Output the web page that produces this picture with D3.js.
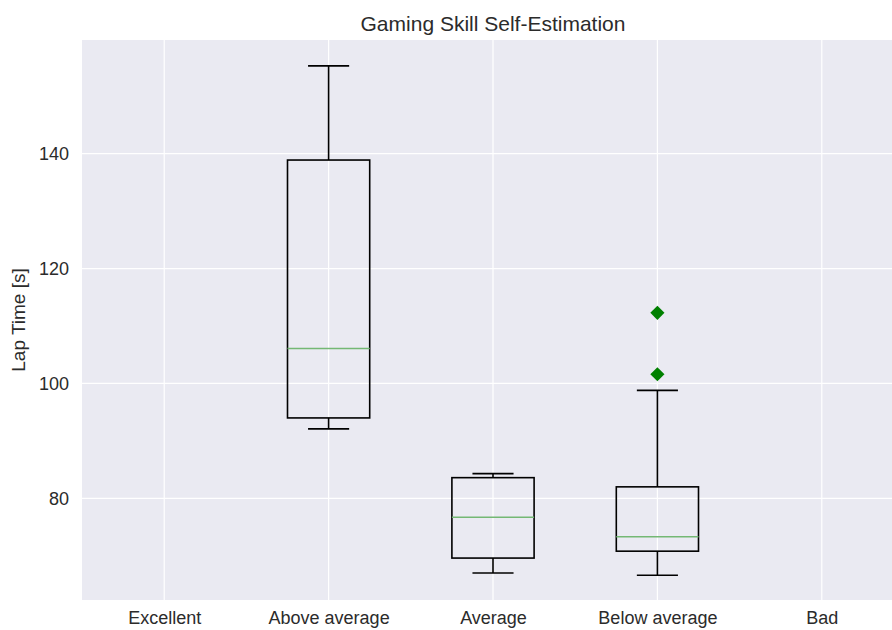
<!DOCTYPE html>
<html>
<head>
<meta charset="utf-8">
<script src="https://cdn.jsdelivr.net/npm/d3@7"></script>
<style>
  html, body { margin: 0; padding: 0; background: #fff; }
  svg { display: block; font-family: "Liberation Sans", Arial, sans-serif; }
</style>
</head>
<body>
<svg id="chart" width="892" height="630"></svg>
<script>
// Skill groups along the x axis
const categories = ["Excellent", "Above average", "Average", "Below average", "Bad"];
// Box statistics per group (null where no laps recorded)
const whiskerLow  = [null, 92.1, 67.0, 66.6, null];
const q1          = [null, 94.0, 69.6, 70.8, null];
const medians     = [null, 106.1, 76.7, 73.3, null];
const q3          = [null, 138.9, 83.6, 82.0, null];
const whiskerHigh = [null, 155.3, 84.3, 98.8, null];
// Outlier laps per group
const outliers    = [[], [], [], [112.3, 101.6], []];
const yTicks = [80, 100, 120, 140];

const svg = d3.select("#chart");
const margin = { left: 82, top: 40, right: -12, bottom: 30 };
const W = 892, H = 630;
const plotRight = W - margin.right;
const plotBottom = H - margin.bottom;

const x = d3.scaleLinear().domain([0.5, 5.5]).range([margin.left, plotRight]);
const y = d3.scaleLinear().domain([62.3, 159.8]).range([plotBottom, margin.top]);

svg.append("rect")
  .attr("x", margin.left).attr("y", margin.top)
  .attr("width", plotRight - margin.left).attr("height", plotBottom - margin.top)
  .attr("fill", "#EAEAF2");

// Grid
const grid = svg.append("g").attr("stroke", "#fff").attr("stroke-width", 1.2);
grid.selectAll(".gx").data(categories).join("line")
  .attr("x1", (d, i) => x(i + 1)).attr("x2", (d, i) => x(i + 1))
  .attr("y1", margin.top).attr("y2", plotBottom);
grid.selectAll(".gy").data(yTicks).join("line")
  .attr("x1", margin.left).attr("x2", plotRight)
  .attr("y1", d => y(d)).attr("y2", d => y(d));

// Axes (labels only, no spines or tick marks)
const xAxis = svg.append("g")
  .attr("transform", `translate(0,${plotBottom})`)
  .call(d3.axisBottom(x).tickValues(categories.map((d, i) => i + 1))
    .tickFormat((d) => categories[d - 1]).tickSize(0).tickPadding(13));
const yAxis = svg.append("g")
  .attr("transform", `translate(${margin.left},0)`)
  .call(d3.axisLeft(y).tickValues(yTicks).tickSize(0).tickPadding(13));
[xAxis, yAxis].forEach(a => {
  a.select(".domain").remove();
  a.selectAll("text").attr("font-size", 18).attr("fill", "#2b2b2b")
    .attr("font-family", "'Liberation Sans', Arial, sans-serif");
});
xAxis.selectAll("text").attr("dy", "0.62em");

// Boxes
const boxW = x(1.25) - x(1);
const capW = x(1.125) - x(1);
const boxes = svg.append("g");
categories.forEach((c, i) => {
  if (medians[i] == null) return;
  const cx = x(i + 1);
  const g = boxes.append("g").attr("stroke", "#000").attr("stroke-width", 1.6).attr("fill", "none");
  g.append("line").attr("x1", cx).attr("x2", cx).attr("y1", y(q3[i])).attr("y2", y(whiskerHigh[i]));
  g.append("line").attr("x1", cx).attr("x2", cx).attr("y1", y(q1[i])).attr("y2", y(whiskerLow[i]));
  g.append("line").attr("x1", cx - capW).attr("x2", cx + capW).attr("y1", y(whiskerHigh[i])).attr("y2", y(whiskerHigh[i]));
  g.append("line").attr("x1", cx - capW).attr("x2", cx + capW).attr("y1", y(whiskerLow[i])).attr("y2", y(whiskerLow[i]));
  g.append("rect").attr("x", cx - boxW).attr("y", y(q3[i]))
    .attr("width", 2 * boxW).attr("height", y(q1[i]) - y(q3[i]));
  g.append("line").attr("x1", cx - boxW).attr("x2", cx + boxW)
    .attr("y1", y(medians[i])).attr("y2", y(medians[i]))
    .attr("stroke", "#74b874").attr("stroke-width", 1.5);
});

// Outlier markers (diamonds)
const diamond = d3.symbol().type(d3.symbolSquare).size(100);
categories.forEach((c, i) => {
  svg.append("g").selectAll("path").data(outliers[i]).join("path")
    .attr("d", diamond)
    .attr("transform", d => `translate(${x(i + 1)},${y(d)}) rotate(45)`)
    .attr("fill", "#008000");
});

// Title and y label
svg.append("text").attr("x", (margin.left + plotRight) / 2).attr("y", 31)
  .attr("text-anchor", "middle").attr("font-size", 21).attr("fill", "#2b2b2b")
  .text("Gaming Skill Self-Estimation");
svg.append("text")
  .attr("transform", `translate(25,${(margin.top + plotBottom) / 2}) rotate(-90)`)
  .attr("text-anchor", "middle").attr("font-size", 19).attr("fill", "#2b2b2b")
  .text("Lap Time [s]");
</script>
</body>
</html>
